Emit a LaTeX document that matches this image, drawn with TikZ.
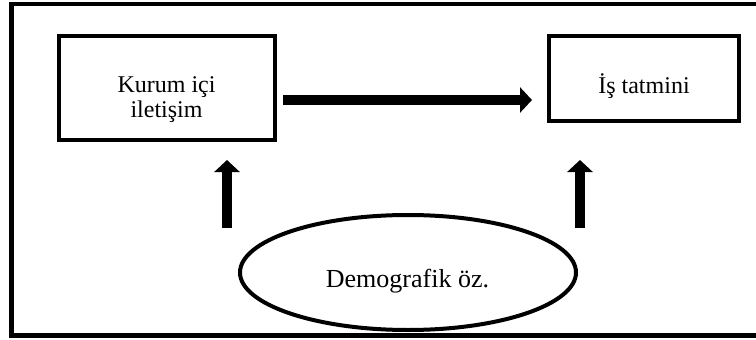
\documentclass[tikz,border=0pt]{standalone}
\usepackage{fontspec}
\setmainfont{Liberation Serif}
\usetikzlibrary{arrows.meta,shapes.geometric}
\tikzset{
  boxnode/.style={draw, line width=4pt, inner sep=0pt},
  txt/.style={inner sep=0pt, anchor=base, font=\fontsize{24}{25}\selectfont},
  bigarrow/.style={line width=10pt, -{Triangle[width=25pt,length=12pt]}},
}
\begin{document}
\begin{tikzpicture}[x=1pt,y=-1pt]
\useasboundingbox (0,0) rectangle (756,340);
\begin{scope}
\clip (0,0) rectangle (756,340);
\draw[line width=4.5pt] (11.5,4) rectangle (775,335.5);
\end{scope}
% boxes
\node[boxnode, minimum width=216pt, minimum height=104pt] (kic) at (167,88) {};
\node[boxnode, minimum width=190pt, minimum height=85pt] (ist) at (644,78.5) {};
\node[boxnode, ellipse, minimum width=336pt, minimum height=115pt] (dem) at (408,272.5) {};
% texts
\node[txt] (kic1) at (166.5,92) {Kurum içi};
\node[txt] (kic2) at (166.5,117) {iletişim};
\node[txt] (istt) at (644,93) {İş tatmini};
\node[txt, font=\fontsize{26}{27}\selectfont] (demt) at (407.5,287) {Demografik öz.};
% arrow end points
\coordinate (h1) at (283,100);
\coordinate (h2) at (532,100);
\coordinate (l1) at (227,228);
\coordinate (l2) at (227,160);
\coordinate (r1) at (580,228);
\coordinate (r2) at (580,160);
\draw[bigarrow] (h1) -- (h2);
\draw[bigarrow] (l1) -- (l2);
\draw[bigarrow] (r1) -- (r2);
\end{tikzpicture}
\end{document}
